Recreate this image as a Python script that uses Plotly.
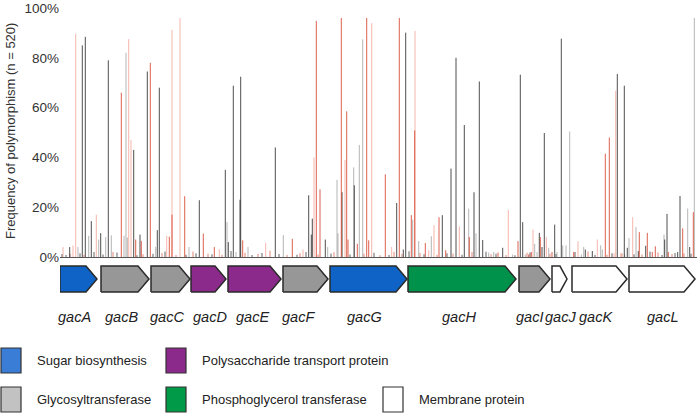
import plotly.graph_objects as go

W, H = 700, 414

# ---------------- data (positions in bp, frequency in %) ----------------
dark_pos = [446, 506, 626, 814, 966, 194, 1474, 1600, 1746, 1946, 1986, 2786, 3306, 3366, 3466, 3600,
            3614, 4306, 4974, 5026, 5046, 5306, 5640, 5886, 6734, 6866, 6914, 7646, 7820, 7920, 8086,
            8280, 8386, 8454, 8854, 9206, 9254, 9586, 9640, 9686, 9894, 10026, 10506, 10646, 11146,
            11286, 11346, 11566, 11714, 12094, 12140, 12354, 12400, 12594]
dark_val = [85, 88.4, 14.4, 9.6, 79, 4, 43, 9, 74.5, 10.8, 68, 22.8, 35, 6, 68.8, 23,
            72.4, 44, 24.8, 9, 15.4, 7, 26, 28.8, 21.7, 3, 90.1, 16.8, 35.5, 80, 53,
            26, 70.5, 6.8, 3.7, 73.2, 14, 9.7, 4, 49.8, 13, 87.7, 3, 2.4, 73.5,
            68.8, 3.7, 2.4, 4.5, 7, 17.3, 2, 24.5, 4]

gray_pos = [360, 574, 774, 914, 1026, 1280, 1320, 1346, 1914, 2580, 3340, 3520, 3760, 4466, 5354,
            5540, 5560, 5874, 5986, 6054, 7054, 7174, 7426, 8174, 8320, 8574, 8674, 9054, 9306,
            9494, 9540, 9774, 9940, 10054, 10120, 10194, 10426, 10474, 10814, 10846, 11294, 11380,
            11520, 12080, 12554, 12686]
gray_val = [4, 8.5, 7, 8, 8.7, 8.5, 82, 7.8, 4, 4, 14, 2, 4, 8.8, 4,
            31, 9.5, 36, 45, 87.4, 15, 6.4, 8.3, 19.4, 9.5, 1.8, 2, 1, 1,
            5.3, 2, 3.7, 2, 4.7, 4.7, 50.4, 1, 4, 4.7, 3, 1, 7.6,
            12, 9, 19.5, 96]

red_pos = [1226, 1514, 1626, 1806, 2186, 2240, 2494, 2866, 3086, 3654, 4646, 5126, 5200, 5626, 5734,
           5760, 5946, 6134, 6174, 6506, 6786, 7026, 7094, 7306, 7580, 7714, 8186, 8760, 9160, 9374,
           9426, 9606, 9840, 10274, 10906, 10986, 11586, 11746, 11846, 11906, 12166, 12454, 12666]
red_val = [66, 7, 6.4, 78, 8.2, 17, 24.4, 9.4, 4, 6.7, 7.3, 94.8, 27.2, 96, 58.5,
           7, 5.3, 96, 6.7, 33.2, 96, 16.8, 50.8, 5.6, 16, 2.7, 8, 1.8, 6.4, 1,
           2, 8, 2, 2, 41.5, 48, 10, 9.7, 2, 4.3, 2, 11.5, 18]

lightred_pos = [60, 260, 314, 726, 1374, 1420, 2134, 2240, 2400, 3186, 4114, 4860, 5080, 5700, 6234,
                6634, 7100, 7374, 7480, 7986, 8966, 9460, 9726, 10360, 10746, 11080, 11114, 11214, 11454]
lightred_val = [4, 4.6, 89.7, 17, 87.5, 47, 8.5, 91.2, 96, 3, 5.6, 3, 40, 39, 93.9,
                4, 90.8, 2.7, 12.8, 12.3, 19, 11, 8, 6.3, 7, 1.5, 66.8, 1.5, 16]

tiny_dark_pos = [40, 120, 400, 680, 860, 1140, 1540, 1860, 2100, 2520, 2720, 3040, 3420, 3840, 4040,
                 4380, 4740, 4920, 5420, 5800, 6280, 6580, 6980, 7280, 7740, 8040, 8520, 8720, 9100,
                 9400, 9920, 10300, 10700, 11040, 11480, 11800, 12040, 12300, 12620]
tiny_dark_val = [1.2, 0.8, 1.5, 2, 1, 1.8, 0.7, 1.3, 2.2, 0.9, 1.5, 1.1, 2.4, 0.8, 1.6,
                 1.2, 0.9, 2, 1.4, 1.0, 1.7, 0.8, 2.3, 1.1, 1.5, 0.9, 2.1, 1.3, 0.7,
                 1.8, 1.2, 2.0, 0.9, 1.5, 1.1, 2.2, 0.8, 1.6, 1.3]
tiny_red_pos = [200, 480, 1060, 1660, 2040, 2320, 2660, 2960, 3240, 3700, 3960, 4200, 4540, 4800,
                5160, 5480, 6080, 6400, 6680, 6840, 7200, 7540, 7860, 8240, 8620, 8920, 9340, 9800,
                10560, 10940, 11240, 11640, 11960, 12240, 12480]
tiny_red_val = [1.4, 0.9, 2.0, 1.1, 1.6, 0.8, 2.2, 1.3, 0.9, 1.7, 1.2, 2.5, 0.8, 1.5,
                1.0, 1.9, 1.3, 0.7, 2.1, 1.2, 1.6, 0.9, 1.4, 2.0, 1.1, 0.8, 1.7, 1.3,
                2.2, 0.9, 1.5, 1.0, 1.8, 1.2, 1.4]

gene_names = ["gacA", "gacB", "gacC", "gacD", "gacE", "gacF", "gacG", "gacH", "gacI", "gacJ", "gacK", "gacL"]
gene_start = [0, 820, 1820, 2620, 3360, 4460, 5400, 6960, 9180, 9840, 10240, 11380]
gene_end = [740, 1780, 2600, 3320, 4420, 5360, 6940, 9120, 9800, 10140, 11340, 12700]
gene_class = ["sugar", "glyco", "glyco", "transport", "transport", "glyco", "sugar", "phospho",
              "glyco", "membrane", "membrane", "membrane"]

legend_keys = ["sugar", "transport", "glyco", "phospho", "membrane"]
legend_labels = ["Sugar biosynthesis", "Polysaccharide transport protein", "Glycosyltransferase",
                 "Phosphoglycerol transferase", "Membrane protein"]

y_ticks = [0, 20, 40, 60, 80, 100]
y_tick_text = ["0%", "20%", "40%", "60%", "80%", "100%"]

# ---------------- styles / layout ----------------
FONT = "Arial, Liberation Sans, sans-serif"
arrow_fill = {"sugar": "#0f63c6", "glyco": "#979797", "transport": "#8c2a8c",
              "phospho": "#00924a", "membrane": "#ffffff"}
legend_fill = {"sugar": "#3a7dd6", "glyco": "#c2c2c2", "transport": "#8c2a8c",
               "phospho": "#009a48", "membrane": "#ffffff"}
# label anchor positions (x in data units) for the gene names
gene_label_x = [294, 1228, 2146, 3000, 3850, 4776, 6080, 7980, 9386, 10016, 10710, 12040]

X0, X1 = 60, 697          # plot area pixels
Y0, Y100 = 257, 8
XR = [0, 12740]


def px(xp):
    return xp / W


def py(yp):
    return 1 - yp / H


def spikes(pos, val):
    xs, ys = [], []
    for p, v in zip(pos, val):
        xs += [p, p, None]
        ys += [0, v, None]
    return xs, ys


fig = go.Figure()

series = [
    (tiny_red_pos, tiny_red_val, "rgba(220,80,60,0.7)"),
    (tiny_dark_pos, tiny_dark_val, "rgba(50,50,50,0.75)"),
    (gray_pos, gray_val, "rgba(120,120,120,0.55)"),
    (lightred_pos, lightred_val, "rgba(236,120,100,0.55)"),
    (dark_pos, dark_val, "rgba(40,40,40,0.82)"),
    (red_pos, red_val, "rgba(214,62,40,0.82)"),
]
for pos, val, col in series:
    xs, ys = spikes(pos, val)
    fig.add_trace(go.Scatter(x=xs, y=ys, mode="lines", line=dict(color=col, width=1.0),
                             hoverinfo="skip", showlegend=False, xaxis="x", yaxis="y"))

# gene arrows
for name, s, e, c, lx in zip(gene_names, gene_start, gene_end, gene_class, gene_label_x):
    tip = min(220, 0.47 * (e - s))
    fig.add_trace(go.Scatter(
        x=[s, e - tip, e, e - tip, s, s], y=[0, 0, 0.5, 1, 1, 0],
        mode="lines", fill="toself", fillcolor=arrow_fill[c],
        line=dict(color="#2a2a2a", width=1.5), hoverinfo="skip", showlegend=False,
        xaxis="x", yaxis="y2"))
    fig.add_annotation(x=lx, xref="x", y=py(317), yref="paper",
                       xanchor="center", yanchor="middle",
                       text="<i>%s</i>" % name, showarrow=False,
                       font=dict(family=FONT, size=14.5, color="#222"))

# legend
leg_sq_x = [1, 166, 1, 166, 383]
leg_row = [0, 0, 1, 1, 1]
row_top = [348, 387]
for k, lab, sx, r in zip(legend_keys, legend_labels, leg_sq_x, leg_row):
    fig.add_shape(type="rect", xref="paper", yref="paper",
                  x0=px(sx), x1=px(sx + 20), y0=py(row_top[r] + 25), y1=py(row_top[r]),
                  fillcolor=legend_fill[k], line=dict(color="#333", width=1.2))
    fig.add_annotation(x=px(sx + 34), y=py(row_top[r] + 12.5), xref="paper", yref="paper",
                       xanchor="left", yanchor="middle", text=lab, showarrow=False,
                       font=dict(family=FONT, size=13, color="#222"))

fig.add_annotation(x=px(10), y=py(131), xref="paper", yref="paper",
                   xanchor="center", yanchor="middle",
                   text="Frequency of polymorphism (n = 520)",
                   textangle=-90, showarrow=False, font=dict(family=FONT, size=13, color="#333"))

fig.update_layout(
    width=W, height=H, margin=dict(l=0, r=0, t=0, b=0, autoexpand=False),
    paper_bgcolor="white", plot_bgcolor="white",
    xaxis=dict(domain=[px(X0), px(X1)], range=XR, showgrid=False, zeroline=False,
               showticklabels=False, ticks="", showline=True, linecolor="#555", linewidth=1,
               anchor="y", automargin=False),
    yaxis=dict(domain=[py(Y0), py(Y100)], range=[0, 100], tickmode="array",
               tickvals=y_ticks, ticktext=y_tick_text, ticklabeloverflow="allow",
               showgrid=False, zeroline=False, showline=False, ticks="", automargin=False,
               tickfont=dict(family=FONT, size=13.5, color="#333"), anchor="x"),
    yaxis2=dict(domain=[py(293), py(265)], range=[-0.04, 1.04], showgrid=False, zeroline=False,
                showticklabels=False, showline=False, anchor="x"),
    showlegend=False,
)

fig.write_html("out.html", config={"displayModeBar": False},
               post_script="document.body.style.margin='0';document.body.style.overflow='hidden';")
